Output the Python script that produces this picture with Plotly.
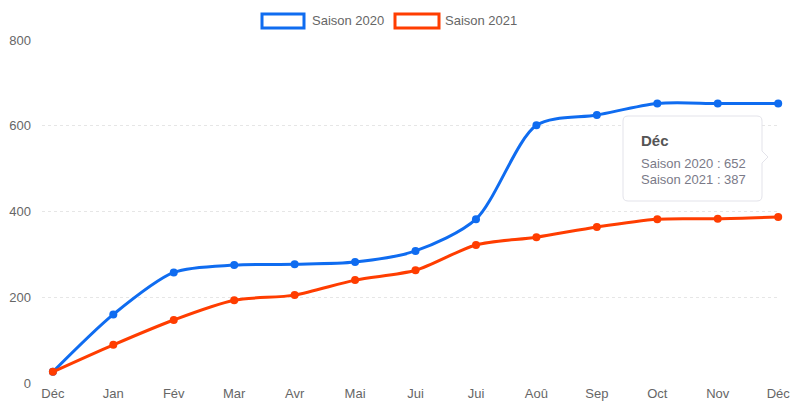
import plotly.graph_objects as go

months = ["Déc", "Jan", "Fév", "Mar", "Avr", "Mai", "Jui", "Jui", "Aoû", "Sep", "Oct", "Nov", "Déc"]
saison_2020 = [26, 160, 258, 275, 277, 282, 308, 382, 601, 625, 652, 652, 652]
saison_2021 = [26, 89, 147, 193, 205, 240, 263, 322, 340, 364, 382, 383, 387]
y_ticks = [0, 200, 400, 600, 800]

BLUE = "#0f6cf0"
RED = "#ff3d00"
FONT = "Liberation Sans, Arial, sans-serif"

W, H = 792, 405
L, R, T, B = 42, 12, 40, 22
pw, ph = W - L - R, H - T - B


def px(x):
    return (x - L) / pw


def py(y):
    return (H - B - y) / ph


xs = list(range(len(months)))
fig = go.Figure()
for name, vals, col in [("Saison 2020", saison_2020, BLUE), ("Saison 2021", saison_2021, RED)]:
    fig.add_trace(go.Scatter(
        x=xs, y=vals, name=name, mode="lines+markers",
        line=dict(color=col, width=3, shape="spline", smoothing=0.8),
        marker=dict(color=col, size=8),
        cliponaxis=False, showlegend=False, hoverinfo="skip",
    ))

shapes = []
annotations = []
# custom legend
for (x0, x1, col, tx, label) in [(262, 304, BLUE, 310, "Saison 2020"), (395, 439, RED, 443, "Saison 2021")]:
    shapes.append(dict(type="rect", xref="paper", yref="paper",
                       x0=px(x0), x1=px(x1), y0=py(28), y1=py(14),
                       line=dict(color=col, width=3), fillcolor="white", layer="above"))
    annotations.append(dict(xref="paper", yref="paper", x=px(tx), y=py(21), text=label,
                            showarrow=False, xanchor="left", yanchor="middle",
                            font=dict(family=FONT, size=13, color="#666")))

# tooltip box with arrow (rounded)
l_, r_, t_, b_ = 623, 762, 116, 201
ay, ah, atip = 157, 6, 768
rad = 5


def P(x, y):
    return f"{px(x)},{py(y)}"


path = (f"M {P(l_ + rad, t_)} L {P(r_ - rad, t_)} Q {P(r_, t_)} {P(r_, t_ + rad)} "
        f"L {P(r_, ay - ah)} L {P(atip, ay)} L {P(r_, ay + ah)} "
        f"L {P(r_, b_ - rad)} Q {P(r_, b_)} {P(r_ - rad, b_)} "
        f"L {P(l_ + rad, b_)} Q {P(l_, b_)} {P(l_, b_ - rad)} "
        f"L {P(l_, t_ + rad)} Q {P(l_, t_)} {P(l_ + rad, t_)} Z")
shapes.append(dict(type="path", xref="paper", yref="paper", path=path,
                   fillcolor="white", line=dict(color="#e3e3ea", width=1), layer="above"))
annotations.append(dict(xref="paper", yref="paper", x=px(639), y=py(140), text="<b>" + months[-1] + "</b>",
                        showarrow=False, xanchor="left", yanchor="middle",
                        font=dict(family=FONT, size=15, color="#555")))
annotations.append(dict(xref="paper", yref="paper", x=px(639), y=py(163),
                        text=f"Saison 2020 : {saison_2020[-1]}",
                        showarrow=False, xanchor="left", yanchor="middle",
                        font=dict(family=FONT, size=13, color="#7a7a88")))
annotations.append(dict(xref="paper", yref="paper", x=px(639), y=py(179),
                        text=f"Saison 2021 : {saison_2021[-1]}",
                        showarrow=False, xanchor="left", yanchor="middle",
                        font=dict(family=FONT, size=13, color="#7a7a88")))

fig.update_layout(
    width=W, height=H,
    margin=dict(l=L, r=R, t=T, b=B, pad=0, autoexpand=False),
    plot_bgcolor="white", paper_bgcolor="white",
    font=dict(family=FONT, size=13, color="#666"),
    showlegend=False,
    shapes=shapes, annotations=annotations,
    xaxis=dict(range=[-0.18, 12.03], tickmode="array", tickvals=xs, ticktext=months,
               showgrid=False, zeroline=False, showline=False, automargin=False,
               ticks="", ticklabelstandoff=1,
               tickfont=dict(family=FONT, size=13, color="#666"), fixedrange=True),
    yaxis=dict(range=[0, 800], tickmode="array", tickvals=y_ticks,
               showgrid=True, gridcolor="#e6e6e6", griddash="dot", gridwidth=1,
               zeroline=False, showline=False, ticklabelstandoff=10, automargin=False,
               tickfont=dict(family=FONT, size=13, color="#666"), fixedrange=True),
)

fig.write_html("out.html", config={"displayModeBar": False},
               post_script="document.body.style.margin='0';document.body.style.overflow='hidden';")
